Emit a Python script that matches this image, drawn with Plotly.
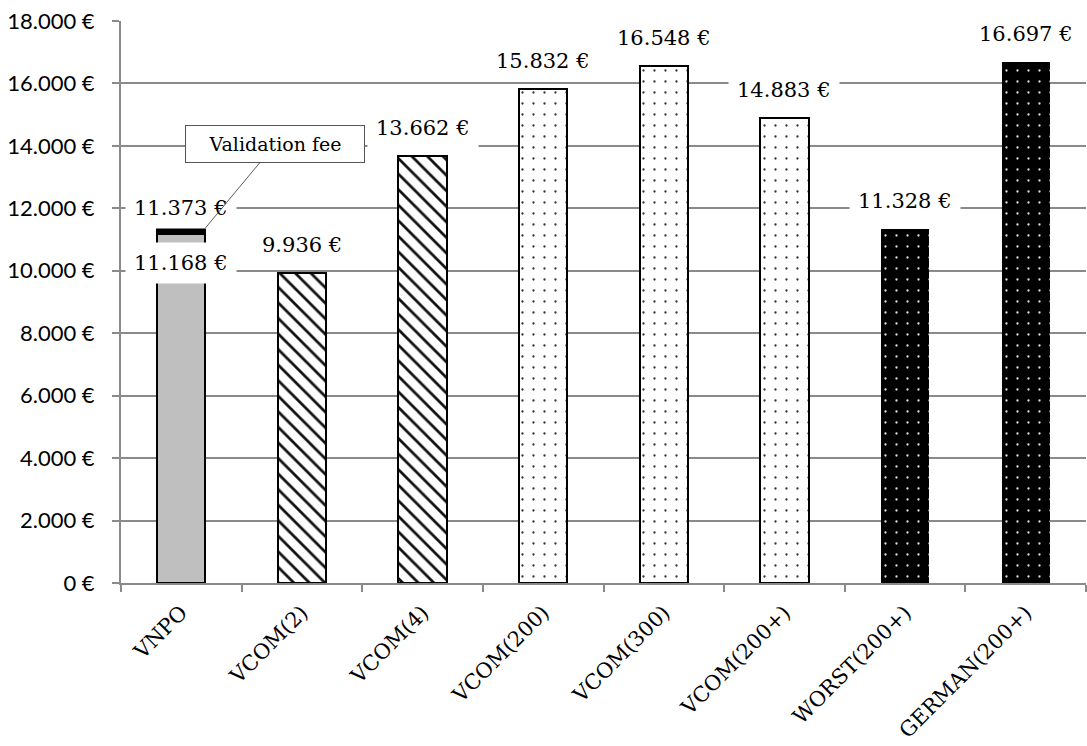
import plotly.graph_objects as go

# Annual cost per configuration (EUR)
categories = ["VNPO", "VCOM(2)", "VCOM(4)", "VCOM(200)", "VCOM(300)",
              "VCOM(200+)", "WORST(200+)", "GERMAN(200+)"]
base_cost = [11168, 9936, 13662, 15832, 16548, 14883, 11328, 16697]
validation_fee = [205, 0, 0, 0, 0, 0, 0, 0]
y_ticks = [0, 2000, 4000, 6000, 8000, 10000, 12000, 14000, 16000, 18000]

# fill style of each bar
styles = ["solid", "hatch", "hatch", "dots", "dots", "dots", "dark", "dark"]

GRID = "#8a8a8a"
SERIF = "DejaVu Serif"


def euro(v):
    return f"{v:,}".replace(",", ".") + " €"


totals = [b + f for b, f in zip(base_cost, validation_fee)]

style_marker = {
    "solid": dict(color="#bfbfbf", line=dict(color="black", width=2)),
    "hatch": dict(color="white", line=dict(color="black", width=2),
                  pattern=dict(shape="\\", bgcolor="white", fgcolor="#111111",
                               size=11, solidity=0.25, fillmode="replace")),
    "dots": dict(color="white", line=dict(color="black", width=2),
                 pattern=dict(shape=".", bgcolor="white", fgcolor="#333333",
                              size=11, solidity=0.035, fillmode="replace")),
    "dark": dict(color="black", line=dict(color="black", width=0),
                 pattern=dict(shape=".", bgcolor="black", fgcolor="#e0e0e0",
                              size=11, solidity=0.035, fillmode="replace")),
}

fig = go.Figure()
for style in ["solid", "hatch", "dots", "dark"]:
    xs = [c for c, s in zip(categories, styles) if s == style]
    ys = [b for b, s in zip(base_cost, styles) if s == style]
    fig.add_trace(go.Bar(x=xs, y=ys, width=0.4, marker=style_marker[style],
                         hoverinfo="skip"))

fee_x = [c for c, f in zip(categories, validation_fee) if f]
fee_y = [f for f in validation_fee if f]
fig.add_trace(go.Bar(
    x=fee_x, y=fee_y, width=0.4,
    marker=dict(color="black", line=dict(color="black", width=2)),
    hoverinfo="skip",
))

label_font = dict(family=SERIF, size=21, color="black")
annotations = []
for i, (cat, tot) in enumerate(zip(categories, totals)):
    shift = 20 if validation_fee[i] else 28
    annotations.append(dict(
        x=cat, y=tot, text=euro(tot), showarrow=False, yshift=shift,
        font=label_font, bgcolor="white", borderpad=8,
    ))
    if validation_fee[i]:
        annotations.append(dict(
            x=cat, y=base_cost[i], text=euro(base_cost[i]), showarrow=False,
            yshift=-29, font=label_font, bgcolor="white", borderpad=8,
        ))
        # callout for the fee segment
        annotations.append(dict(
            x=i + 0.2, y=tot, xref="x", yref="y", text="Validation fee",
            showarrow=True, arrowhead=0, arrowwidth=0.8, arrowcolor="#333333",
            ax=70, ay=-84, font=dict(family=SERIF, size=19, color="black"),
            width=164, height=22,
            bgcolor="white", bordercolor="#555555", borderwidth=1, borderpad=7,
        ))

fig.update_layout(
    width=1087, height=746,
    margin=dict(l=121, r=1, t=21, b=163),
    paper_bgcolor="white", plot_bgcolor="white",
    barmode="stack", showlegend=False,
    annotations=annotations,
)
fig.update_xaxes(
    type="category", categoryorder="array", categoryarray=categories,
    tickson="boundaries", ticks="outside", ticklen=7,
    tickcolor=GRID, tickwidth=2, showline=True, linecolor=GRID, linewidth=2,
    showgrid=False, tickangle=-45, ticklabelstandoff=7, automargin=False,
    tickfont=dict(family=SERIF, size=21, color="black"),
)
fig.update_yaxes(
    range=[0, 18000], tickvals=y_ticks, ticktext=[euro(v) for v in y_ticks],
    ticks="outside", ticklen=7, tickcolor=GRID, tickwidth=2,
    showline=True, linecolor=GRID, linewidth=2,
    showgrid=True, gridcolor=GRID, gridwidth=2, zeroline=False,
    tickfont=dict(family="Lato", size=22, color="black"),
    ticklabelstandoff=13, automargin=False,
)

fig.write_html("out.html")
